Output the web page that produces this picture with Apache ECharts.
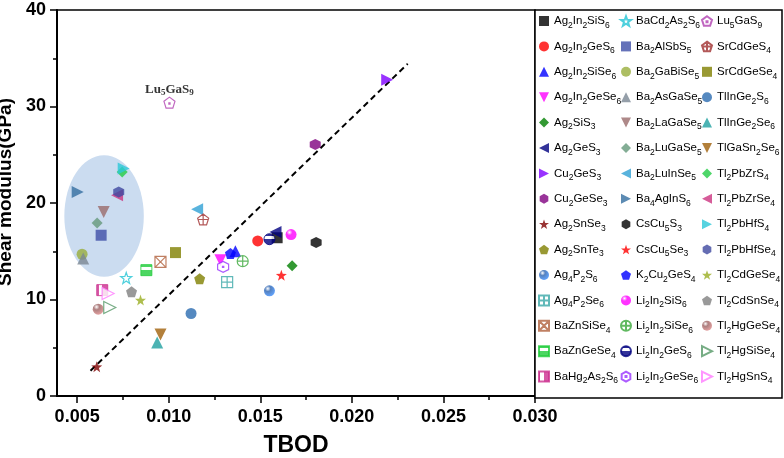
<!DOCTYPE html>
<html>
<head>
<meta charset="utf-8">
<script src="https://cdn.jsdelivr.net/npm/echarts@6/dist/echarts.min.js"></script>
<style>
  html, body { margin: 0; padding: 0; background: #fff; }
  #chart { width: 784px; height: 458px; }
</style>
</head>
<body>
<div id="chart"></div>
<script>
// compounds, listed in legend order (3 columns of 15)
const compounds = [
  'Ag2In2SiS6', 'Ag2In2GeS6', 'Ag2In2SiSe6', 'Ag2In2GeSe6', 'Ag2SiS3', 'Ag2GeS3', 'Cu2GeS3', 'Cu2GeSe3',
  'Ag2SnSe3', 'Ag2SnTe3', 'Ag4P2S6', 'Ag4P2Se6', 'BaZnSiSe4', 'BaZnGeSe4', 'BaHg2As2S6',
  'BaCd2As2S6', 'Ba2AlSbS5', 'Ba2GaBiSe5', 'Ba2AsGaSe5', 'Ba2LaGaSe5', 'Ba2LuGaSe5', 'Ba2LuInSe5', 'Ba4AgInS6',
  'CsCu5S3', 'CsCu5Se3', 'K2Cu2GeS4', 'Li2In2SiS6', 'Li2In2SiSe6', 'Li2In2GeS6', 'Li2In2GeSe6',
  'Lu5GaS9', 'SrCdGeS4', 'SrCdGeSe4', 'TlInGe2S6', 'TlInGe2Se6', 'TlGaSn2Se6', 'Tl2PbZrS4', 'Tl2PbZrSe4',
  'Tl2PbHfS4', 'Tl2PbHfSe4', 'Tl2CdGeSe4', 'Tl2CdSnSe4', 'Tl2HgGeSe4', 'Tl2HgSiSe4', 'Tl2HgSnS4'
]

// TBOD (x)
const tbod = [
  0.01592, 0.01486, 0.01364, 0.01282, 0.01674, 0.01583, 0.02193, 0.01800,
  0.00607, 0.01169, 0.01550, 0.01319, 0.00955, 0.00878, 0.00637,
  0.00768, 0.00631, 0.00527, 0.00533, 0.00645, 0.00609, 0.01155, 0.00503,
  0.01805, 0.01615, 0.01337, 0.01668, 0.01404, 0.01550, 0.01297,
  0.01004, 0.01188, 0.01037, 0.01122, 0.00937, 0.00955, 0.00746, 0.00718,
  0.00754, 0.00727, 0.00846, 0.00797, 0.00615, 0.00678, 0.00669
]

// shear modulus, GPa (y)
const shear = [
  16.40, 16.07, 15.00, 14.07, 13.49, 17.00, 32.78, 26.05,
  3.03, 12.14, 10.90, 11.80, 13.90, 13.04, 10.97,
  12.24, 16.66, 14.69, 14.25, 19.07, 17.94, 19.35, 21.14,
  15.90, 12.52, 14.76, 16.73, 13.97, 16.25, 13.38,
  30.40, 18.30, 14.86, 8.55, 5.55, 6.38, 23.20, 20.80,
  23.57, 21.14, 9.94, 10.80, 9.00, 9.18, 10.63
]

// dashed guide line end points and highlighted region [cx, cy, rx, ry]
const trendX = [0.00573, 0.02305]
const trendY = [2.62, 34.43]
const highlight = [0.00647, 18.65, 0.00217, 6.29]

const xTicks = [0.005, 0.010, 0.015, 0.020, 0.025, 0.030]
const xMinorTicks = [0.0075, 0.0125, 0.0175, 0.0225, 0.0275]

// marker shapes
const SYM = {
  square: 'rect',
  circle: 'circle',
  up: 'triangle',
  diamond: 'diamond',
  down: 'path://M0,0L10,0L5,10Z',
  left: 'path://M10,0L10,10L0,5Z',
  right: 'path://M0,0L10,5L0,10Z',
  hex: 'path://M5,0L9.33,2.5L9.33,7.5L5,10L0.67,7.5L0.67,2.5Z',
  star: 'path://M5,0L6.18,3.38L9.76,3.45L6.9,5.62L7.94,9.05L5,7L2.06,9.05L3.1,5.62L0.24,3.45L3.82,3.38Z',
  pent: 'path://M5,0L9.76,3.45L7.94,9.05L2.06,9.05L0.24,3.45Z',
  boxPlus: 'path://M0,0L10,0L10,10L0,10Z M5,0L5,10 M0,5L10,5',
  boxX: 'path://M0,0L10,0L10,10L0,10Z M0,0L10,10 M10,0L0,10',
  circPlus: 'path://M0,5A5,5,0,1,1,10,5A5,5,0,1,1,0,5Z M5,0L5,10 M0,5L10,5',
  pentPlus: 'path://M5,0L9.76,3.45L7.94,9.05L2.06,9.05L0.24,3.45Z M5,0L5,9.05 M0.9,4.6L9.1,4.6',
  pentDot: 'path://M5,0L9.76,3.45L7.94,9.05L2.06,9.05L0.24,3.45Z M4.5,4.7L5.5,4.7L5.5,5.7L4.5,5.7Z',
  hexDot: 'path://M5,0L9.33,2.5L9.33,7.5L5,10L0.67,7.5L0.67,2.5Z M4.5,4.5L5.5,4.5L5.5,5.5L4.5,5.5Z'
}

// [symbol, colour, kind]
const markers = [
  ['square', '#000000', 'solid'], ['circle', '#ff0000', 'solid'], ['up', '#0000ff', 'solid'],
  ['down', '#ff00ff', 'solid'], ['diamond', '#008000', 'solid'], ['left', '#000080', 'solid'],
  ['right', '#8000ff', 'solid'], ['hex', '#800080', 'solid'], ['star', '#800000', 'solid'],
  ['pent', '#808000', 'solid'], ['circle', '#2a62b0', 'ball'], ['boxPlus', '#3aa8a8', 'open'],
  ['boxX', '#b0603c', 'open'], ['square', '#1fcc3a', 'bandH'], ['square', '#cc2f8f', 'bandV'],
  ['star', '#22c4d4', 'open'], ['square', '#3f4fa8', 'solid'], ['circle', '#98ae3c', 'solid'],
  ['up', '#7b8794', 'solid'], ['down', '#9a6c6c', 'solid'], ['diamond', '#64987a', 'solid'],
  ['left', '#30a0d4', 'solid'], ['right', '#336ea0', 'solid'], ['hex', '#000000', 'solid'],
  ['star', '#ff0000', 'solid'], ['pent', '#0000ff', 'solid'], ['circle', '#ff00ff', 'ball'],
  ['circPlus', '#3aa83a', 'open'], ['circle', '#000080', 'bandH'], ['hexDot', '#9933ff', 'open'],
  ['pentDot', '#b040b0', 'open'], ['pentPlus', '#a03030', 'open'], ['square', '#808000', 'solid'],
  ['circle', '#2a6bb0', 'solid'], ['up', '#1fa0a0', 'solid'], ['down', '#a0600a', 'solid'],
  ['diamond', '#22cc44', 'solid'], ['left', '#cc3380', 'solid'], ['right', '#2cc8d8', 'solid'],
  ['hex', '#3f48a0', 'solid'], ['star', '#9aae22', 'solid'], ['pent', '#808080', 'solid'],
  ['circle', '#9a6060', 'ball'], ['right', '#559966', 'open'], ['right', '#ff7cff', 'open']
]

function itemStyleFor(color, kind) {
  if (kind === 'open') {
    return { color: '#fff', borderColor: color, borderWidth: 1.2 }
  }
  if (kind === 'ball') {
    return {
      color: new echarts.graphic.RadialGradient(0.35, 0.3, 0.75, [
        { offset: 0, color: '#ffffff' },
        { offset: 0.35, color: color },
        { offset: 1, color: echarts.color.lift(color, -0.45) }
      ])
    }
  }
  if (kind === 'bandH') {
    return {
      color: new echarts.graphic.LinearGradient(0, 0, 0, 1, [
        { offset: 0, color: color }, { offset: 0.22, color: color },
        { offset: 0.22, color: '#fff' }, { offset: 0.52, color: '#fff' },
        { offset: 0.52, color: color }, { offset: 1, color: color }
      ]),
      borderColor: color, borderWidth: 1
    }
  }
  if (kind === 'bandV') {
    return {
      color: new echarts.graphic.LinearGradient(0, 0, 1, 0, [
        { offset: 0, color: color }, { offset: 0.2, color: color },
        { offset: 0.2, color: '#fff' }, { offset: 0.5, color: '#fff' },
        { offset: 0.5, color: color }, { offset: 1, color: color }
      ]),
      borderColor: color, borderWidth: 1
    }
  }
  return { color: color }
}

const subRich = (name) => name.replace(/(\d+)/g, '{s|$1}')

const pointSeries = compounds.map((name, i) => {
  const [sym, color, kind] = markers[i]
  const s = {
    name: name,
    type: 'scatter',
    symbol: SYM[sym],
    symbolSize: sym === 'up' || sym === 'down' || sym === 'left' || sym === 'right' ? 12 : 11,
    itemStyle: itemStyleFor(color, kind),
    data: [[tbod[i], shear[i]]],
    z: 3
  }
  if (name === 'Lu5GaS9') {
    s.label = {
      show: true,
      position: 'top',
      distance: -1,
      formatter: () => subRich(name),
      fontFamily: 'Liberation Serif',
      fontWeight: 'bold',
      fontSize: 13,
      color: '#000',
      lineHeight: 16,
      rich: { s: { fontFamily: 'Liberation Serif', fontWeight: 'bold', fontSize: 9, lineHeight: 9, verticalAlign: 'bottom', color: '#000' } }
    }
  }
  return s
})

const legendText = {
  fontFamily: 'Liberation Sans',
  fontSize: 11.5,
  color: '#000',
  lineHeight: 18,
  rich: { s: { fontFamily: 'Liberation Sans', fontSize: 8.5, lineHeight: 10, verticalAlign: 'bottom', color: '#000' } }
}
const legendLefts = [538, 620, 701]
const legends = legendLefts.map((left, c) => ({
  orient: 'vertical',
  left: left,
  top: 12,
  padding: 0,
  itemWidth: 10,
  itemHeight: 10,
  itemGap: 7.4,
  selectedMode: false,
  z: 100,
  data: compounds.slice(c * 15, c * 15 + 15),
  formatter: subRich,
  textStyle: legendText
}))

const chart = echarts.init(document.getElementById('chart'))
const axisFont = { fontFamily: 'Liberation Sans', fontWeight: 'bold', fontSize: 18, color: '#000' }

chart.setOption({
  animation: false,
  backgroundColor: '#fff',
  grid: {
    left: 57, right: 249, top: 10, bottom: 62,
    outerBoundsMode: 'none',
    show: true, borderColor: '#000', borderWidth: 1.5
  },
  legend: legends,
  graphic: [{
    type: 'rect',
    z: 50,
    shape: { x: 535, y: 10, width: 247, height: 388 },
    style: { fill: '#fff', stroke: '#000', lineWidth: 1.5 }
  }],
  xAxis: [{
    type: 'value',
    min: 0.0039,
    max: 0.030,
    name: 'TBOD',
    nameLocation: 'middle',
    nameGap: 38,
    nameTextStyle: { fontFamily: 'Liberation Sans', fontWeight: 'bold', fontSize: 23, color: '#000' },
    axisLine: { lineStyle: { color: '#000', width: 2 } },
    axisTick: { inside: false, length: 7, lineStyle: { color: '#000', width: 1.5 }, customValues: xTicks },
    axisLabel: { ...axisFont, margin: 12, customValues: xTicks, formatter: (v) => v.toFixed(3) },
    splitLine: { show: false }
  }, {
    type: 'value',
    min: 0.0039,
    max: 0.030,
    position: 'bottom',
    axisLine: { show: false },
    axisTick: { length: 4, lineStyle: { color: '#000', width: 1.5 }, customValues: xMinorTicks },
    axisLabel: { show: false },
    splitLine: { show: false }
  }],
  yAxis: {
    type: 'value',
    min: 0,
    max: 40,
    interval: 10,
    name: 'Shear modulus(GPa)',
    nameLocation: 'middle',
    nameGap: 33,
    nameTextStyle: { fontFamily: 'Liberation Sans', fontWeight: 'bold', fontSize: 19, color: '#000', padding: [0, 0, 0, 22] },
    axisLine: { show: true, lineStyle: { color: '#000', width: 2 } },
    axisTick: { show: true, length: 7, lineStyle: { color: '#000', width: 1.5 } },
    minorTick: { show: true, splitNumber: 2, length: 4, lineStyle: { color: '#000', width: 1.5 } },
    axisLabel: { ...axisFont, margin: 11 },
    splitLine: { show: false }
  },
  series: [
    {
      type: 'custom',
      silent: true,
      z: 1,
      renderItem: (params, api) => {
        const c = api.coord([api.value(0), api.value(1)])
        const s = api.size([api.value(2), api.value(3)])
        return { type: 'ellipse', shape: { cx: c[0], cy: c[1], rx: s[0], ry: s[1] }, style: { fill: '#cbdcf0' } }
      },
      data: [highlight]
    },
    {
      type: 'line',
      silent: true,
      z: 2,
      symbol: 'none',
      lineStyle: { color: '#000', width: 2, type: [6, 4] },
      data: trendX.map((x, i) => [x, trendY[i]])
    },
    ...pointSeries
  ]
})
</script>
</body>
</html>
